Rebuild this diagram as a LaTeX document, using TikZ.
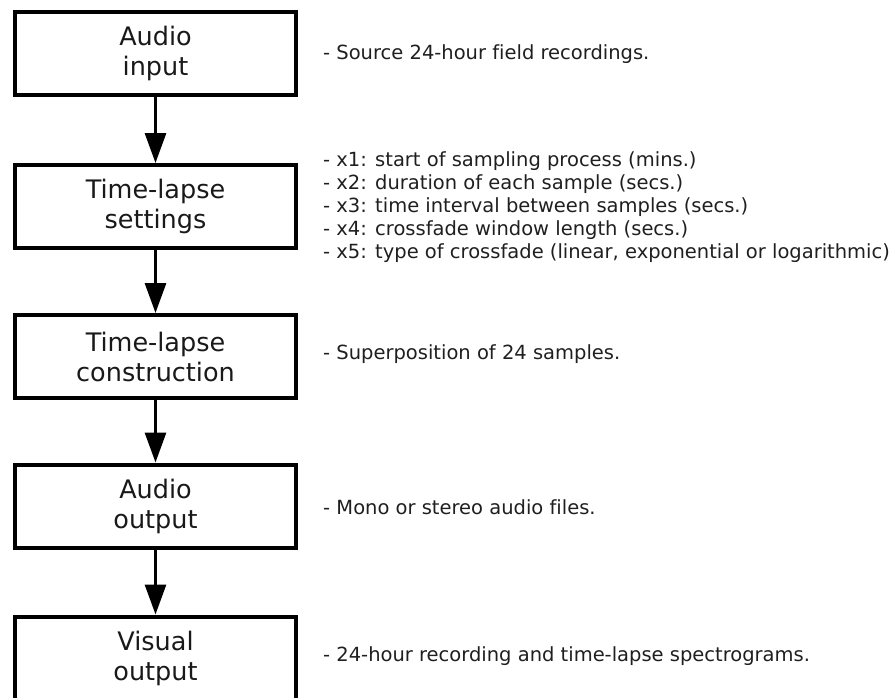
\documentclass[tikz,border=0pt]{standalone}
\usepackage{fontspec}
\setmainfont{DejaVu Sans}[Ligatures={NoCommon}]
\usetikzlibrary{arrows.meta}
\begin{document}
\begin{tikzpicture}[x=1pt,y=-1pt,
  stepbox/.style={draw=black, line width=4pt, minimum width=281pt, minimum height=83pt,
    inner sep=0pt, align=center, font=\fontsize{25.5}{30}\selectfont, text=black!90},
  note/.style={anchor=west, inner sep=0pt, align=left, font=\fontsize{19.5}{23}\selectfont, text=black!88},
  flow/.style={line width=3pt, -{Triangle[length=30pt,width=21pt]}}]
\useasboundingbox (0,0) rectangle (892,697);
\begin{scope}
\clip (0,0) rectangle (892,697);
\node[stepbox] (b1) at (155.5,53.5) {Audio\\input};
\node[stepbox] (b2) at (155.5,206.5) {Time-lapse\\settings};
\node[stepbox] (b3) at (155.5,356.5) {Time-lapse\\construction};
\node[stepbox] (b4) at (155.5,506) {Audio\\output};
\node[stepbox] (b5) at (155.5,658) {Visual\\output};
\end{scope}
\draw[flow] (b1.south) -- (b2.north);
\draw[flow] (b2.south) -- (b3.north);
\draw[flow] (b3.south) -- (b4.north);
\draw[flow] (b4.south) -- (b5.north);
\node[note] (n1) at (323,54) {- Source 24-hour field recordings.};
\node[note] (n2) at (323,207) {- x1: start of sampling process (mins.)\\- x2: duration of each sample (secs.)\\- x3: time interval between samples (secs.)\\- x4: crossfade window length (secs.)\\- x5: type of crossfade (linear, exponential or logarithmic)};
\node[note] (n3) at (323,354) {- Superposition of 24 samples.};
\node[note] (n4) at (323,507) {- Mono or stereo audio files.};
\node[note] (n5) at (323,656) {- 24-hour recording and time-lapse spectrograms.};
\end{tikzpicture}
\end{document}
